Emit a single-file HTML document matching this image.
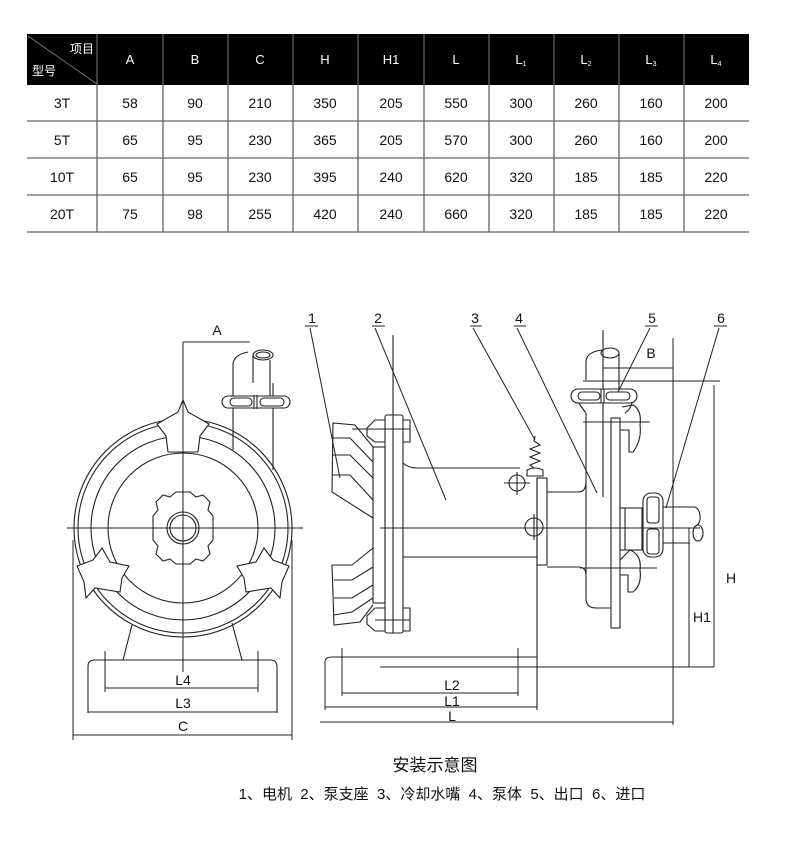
<!DOCTYPE html>
<html><head><meta charset="utf-8"><style>
html,body{margin:0;padding:0;background:#fff;}
body{width:790px;height:850px;position:relative;overflow:hidden;font-family:"Liberation Sans","Noto Sans CJK SC",sans-serif;}
</style></head><body>
<svg width="790" height="850" viewBox="0 0 790 850" xmlns="http://www.w3.org/2000/svg" style="position:absolute;left:0;top:0">
<g font-family="Liberation Sans, Noto Sans CJK SC, sans-serif">
<!-- table header -->
<rect x="27" y="34" width="722" height="51" fill="#000"/>
<g stroke="#777" stroke-width="1">
<line x1="97" y1="34" x2="97" y2="85"/><line x1="163" y1="34" x2="163" y2="85"/><line x1="228" y1="34" x2="228" y2="85"/><line x1="293" y1="34" x2="293" y2="85"/><line x1="358" y1="34" x2="358" y2="85"/><line x1="424" y1="34" x2="424" y2="85"/><line x1="489" y1="34" x2="489" y2="85"/><line x1="554" y1="34" x2="554" y2="85"/><line x1="619" y1="34" x2="619" y2="85"/><line x1="684" y1="34" x2="684" y2="85"/>
<line x1="28" y1="36" x2="97" y2="84"/>
</g>
<g stroke="#333" stroke-width="1">
<line x1="97" y1="85" x2="97" y2="232"/><line x1="163" y1="85" x2="163" y2="232"/><line x1="228" y1="85" x2="228" y2="232"/><line x1="293" y1="85" x2="293" y2="232"/><line x1="358" y1="85" x2="358" y2="232"/><line x1="424" y1="85" x2="424" y2="232"/><line x1="489" y1="85" x2="489" y2="232"/><line x1="554" y1="85" x2="554" y2="232"/><line x1="619" y1="85" x2="619" y2="232"/><line x1="684" y1="85" x2="684" y2="232"/>
</g>
<g stroke="#666" stroke-width="1.2">
<line x1="27" y1="121" x2="749" y2="121"/><line x1="27" y1="158" x2="749" y2="158"/><line x1="27" y1="195" x2="749" y2="195"/><line x1="27" y1="232" x2="749" y2="232"/>
</g>
<g fill="#fff" font-size="13" text-anchor="middle">
<text x="82" y="53" font-size="12">项目</text><text x="44" y="75" font-size="12">型号</text>
<text x="130" y="64">A</text><text x="195" y="64">B</text><text x="260" y="64">C</text><text x="325" y="64">H</text><text x="391" y="64">H1</text><text x="456" y="64">L</text>
<text x="521" y="64">L<tspan font-size="7" dy="2">1</tspan></text><text x="586" y="64">L<tspan font-size="7" dy="2">2</tspan></text><text x="651" y="64">L<tspan font-size="7" dy="2">3</tspan></text><text x="716" y="64">L<tspan font-size="7" dy="2">4</tspan></text>
</g>
<g fill="#111" font-size="14" text-anchor="middle">
<text x="62" y="108">3T</text><text x="130" y="108">58</text><text x="195" y="108">90</text><text x="260" y="108">210</text><text x="325" y="108">350</text><text x="391" y="108">205</text><text x="456" y="108">550</text><text x="521" y="108">300</text><text x="586" y="108">260</text><text x="651" y="108">160</text><text x="716" y="108">200</text>
<text x="62" y="145">5T</text><text x="130" y="145">65</text><text x="195" y="145">95</text><text x="260" y="145">230</text><text x="325" y="145">365</text><text x="391" y="145">205</text><text x="456" y="145">570</text><text x="521" y="145">300</text><text x="586" y="145">260</text><text x="651" y="145">160</text><text x="716" y="145">200</text>
<text x="62" y="182">10T</text><text x="130" y="182">65</text><text x="195" y="182">95</text><text x="260" y="182">230</text><text x="325" y="182">395</text><text x="391" y="182">240</text><text x="456" y="182">620</text><text x="521" y="182">320</text><text x="586" y="182">185</text><text x="651" y="182">185</text><text x="716" y="182">220</text>
<text x="62" y="219">20T</text><text x="130" y="219">75</text><text x="195" y="219">98</text><text x="260" y="219">255</text><text x="325" y="219">420</text><text x="391" y="219">240</text><text x="456" y="219">660</text><text x="521" y="219">320</text><text x="586" y="219">185</text><text x="651" y="219">185</text><text x="716" y="219">220</text>
</g>

<!-- FRONT VIEW -->
<g fill="none" stroke="#222" stroke-width="1.1">
<circle cx="183" cy="528" r="109"/><circle cx="183" cy="528" r="105"/>
<circle cx="183" cy="528" r="92"/><circle cx="183" cy="528" r="75"/>
<path d="M156,502 L163,495 L170,497 L176,492 L190,492 L196,497 L203,495 L210,502 L208,510 L213,516 L213,540 L208,546 L210,554 L203,561 L196,559 L190,564 L176,564 L170,559 L163,561 L156,554 L158,546 L153,540 L153,516 L158,510 Z" fill="#fff"/>
<circle cx="183" cy="528" r="16"/><circle cx="183" cy="528" r="13"/>
<path d="M157,424 L178,412 L183,400 L188,412 L209,424 L200,436 L198,452 L168,452 L166,436 Z" fill="#fff"/>
<path d="M77,566 L93,560 L102,548 L110,562 L129,566 L122,578 L120,592 L95,588 L86,598 L84,582 Z" fill="#fff"/>
<path d="M289,566 L273,560 L264,548 L256,562 L237,566 L244,578 L246,592 L271,588 L280,598 L282,582 Z" fill="#fff"/>
<path d="M233,426 L233,383 M273,426 L273,383 M233,383 L233,365 Q233,355 248,352 M270,360 L270,408"/>
<line x1="233" y1="426" x2="233" y2="450"/><line x1="273" y1="426" x2="273" y2="470"/>
<ellipse cx="263" cy="355" rx="10" ry="5"/><ellipse cx="263" cy="355" rx="7" ry="3"/>
<line x1="253" y1="355" x2="253" y2="383"/>
<rect x="222" y="396" width="68" height="12" rx="6" fill="#fff"/>
<rect x="230" y="398" width="22" height="8" rx="4"/><rect x="260" y="398" width="24" height="8" rx="4"/>
<line x1="254" y1="395" x2="254" y2="409"/><line x1="257" y1="395" x2="257" y2="409"/>
<line x1="132" y1="625" x2="123" y2="660"/><line x1="232" y1="623" x2="242" y2="660"/>
<path d="M88,713 L88,666 Q88,660 95,660 L270,660 Q277,660 277,667 L277,713"/>
</g>
<g stroke="#222" stroke-width="1" fill="none">
<line x1="67" y1="528" x2="303" y2="528"/><line x1="183" y1="342" x2="183" y2="672"/>
<line x1="183" y1="342" x2="250" y2="342"/>
<line x1="105" y1="651" x2="105" y2="692"/><line x1="258" y1="651" x2="258" y2="692"/>
<line x1="105" y1="688" x2="258" y2="688"/>
<line x1="88" y1="712" x2="277" y2="712"/>
<line x1="73" y1="540" x2="73" y2="740"/><line x1="292" y1="540" x2="292" y2="740"/>
<line x1="73" y1="735" x2="292" y2="735"/>
</g>
<g font-size="14" fill="#111" text-anchor="middle">
<text x="217" y="335">A</text><text x="183" y="685">L4</text><text x="183" y="708">L3</text><text x="183" y="731">C</text>
</g>

<!-- SIDE VIEW -->
<g fill="none" stroke="#222" stroke-width="1.1">
<path d="M373,447 L355,425 L333,423 L332,492 L373,518"/>
<path d="M332,438 L350,438 L373,462 M332,455 L350,455 L373,478 M332,475 L350,475 L373,500"/>
<path d="M373,548 L352,565 L332,565 L334,625 L360,622 L373,605"/>
<path d="M334,580 L352,580 L373,567 M334,598 L352,598 L373,585 M334,615 L352,612 L373,598"/>
<rect x="373" y="447" width="12" height="156"/>
<rect x="385" y="415" width="18" height="218" rx="2" fill="#fff"/>
<line x1="393" y1="335" x2="393" y2="633"/>
<path d="M385,420 L375,420 L367,428 L367,436 L375,442 L385,442 M403,420 L410,420 L410,442 L403,442"/>
<path d="M385,608 L375,608 L367,616 L367,624 L375,631 L385,631 M403,608 L410,608 L410,631 L403,631"/>
<line x1="352" y1="429" x2="410" y2="429"/><line x1="375" y1="620" x2="410" y2="620"/>
<path d="M403,463 Q408,468 418,468 L520,468"/>
<line x1="403" y1="557" x2="537" y2="557"/>
<circle cx="517" cy="483" r="8"/><line x1="504" y1="483" x2="530" y2="483"/><line x1="517" y1="472" x2="517" y2="495"/>
<path d="M527,476 L527,470 Q535,466 543,470 L543,476 Z" fill="#fff"/>
<path d="M534,468 L530,465 L540,461 L530,457 L540,453 L530,449 L540,445 L534,441 L535,436"/>
<rect x="537" y="478" width="10" height="87" fill="#fff"/>
<line x1="537" y1="478" x2="537" y2="710"/>
<circle cx="534" cy="527" r="9"/><line x1="534" y1="514" x2="534" y2="540"/>
<path d="M547,492 L578,492 Q586,492 586,482 M547,567 L578,567 Q586,567 586,575"/>
<path d="M586,413 L586,598 Q586,608 596,608 L612,608"/>
<rect x="611" y="418" width="9" height="210" fill="#fff"/>
<line x1="583" y1="422" x2="650" y2="422"/><line x1="580" y1="568" x2="657" y2="568"/>
<line x1="603" y1="330" x2="603" y2="497"/>
<path d="M586,380 L586,362 Q586,352 602,350 M619,353 L619,395"/>
<ellipse cx="610" cy="353" rx="9" ry="5"/>
<path d="M586,413 Q580,405 575,398 M632,403 Q630,410 625,413"/>
<rect x="571" y="389" width="66" height="14" rx="7" fill="#fff"/>
<rect x="578" y="392" width="22" height="8" rx="4"/><rect x="606" y="392" width="24" height="8" rx="4"/>
<line x1="601" y1="389" x2="601" y2="403"/><line x1="604" y1="389" x2="604" y2="403"/>
<path d="M622,407 L633,405 Q642,410 640,425 Q642,440 633,452 L629,452 L629,430 L620,430"/>
<path d="M620,560 L630,550 Q642,555 640,570 Q642,585 633,592 L628,592 L628,575 L620,575"/>
<rect x="620" y="508" width="22" height="42" fill="#fff"/>
<line x1="625" y1="508" x2="625" y2="550"/>
<rect x="643" y="493" width="20" height="64" rx="8" fill="#fff"/>
<rect x="647" y="497" width="12" height="26" rx="3"/><rect x="647" y="529" width="12" height="25" rx="3"/>
<path d="M663,507 L695,507 Q701,510 700,520 Q699,525 694,527 M663,543 L690,543"/>
<ellipse cx="698" cy="533" rx="5" ry="8"/>
</g>
<g stroke="#222" stroke-width="1" fill="none">
<line x1="380" y1="528" x2="700" y2="528"/>
<line x1="673" y1="338" x2="673" y2="725"/>
<line x1="603" y1="368" x2="673" y2="368"/>
<line x1="583" y1="381" x2="720" y2="381"/>
<line x1="714" y1="385" x2="714" y2="667"/>
<line x1="689" y1="528" x2="689" y2="667"/>
<line x1="380" y1="667" x2="714" y2="667"/>
<path d="M325,710 L325,662 Q325,657 332,657 L537,657"/>
<line x1="342" y1="648" x2="342" y2="696"/><line x1="518" y1="648" x2="518" y2="696"/>
<line x1="342" y1="693" x2="518" y2="693"/>
<line x1="325" y1="707" x2="537" y2="707"/>
<line x1="320" y1="722" x2="673" y2="722"/>
<line x1="310" y1="328" x2="340" y2="478"/><line x1="305" y1="326" x2="318" y2="326"/>
<line x1="375" y1="328" x2="446" y2="500"/><line x1="372" y1="326" x2="385" y2="326"/>
<line x1="473" y1="328" x2="535" y2="440"/><line x1="470" y1="326" x2="482" y2="326"/>
<line x1="517" y1="328" x2="597" y2="493"/><line x1="514" y1="326" x2="526" y2="326"/>
<line x1="650" y1="328" x2="618" y2="392"/><line x1="645" y1="326" x2="658" y2="326"/>
<line x1="719" y1="328" x2="666" y2="508"/><line x1="714" y1="326" x2="727" y2="326"/>
</g>
<g font-size="14" fill="#111" text-anchor="middle">
<text x="312" y="323">1</text><text x="378" y="323">2</text><text x="475" y="323">3</text><text x="519" y="323">4</text><text x="652" y="323">5</text><text x="721" y="323">6</text>
<text x="651" y="358">B</text><text x="731" y="583">H</text><text x="702" y="622">H1</text>
<text x="452" y="690">L2</text><text x="452" y="706">L1</text><text x="452" y="721">L</text>
</g>
<text x="435" y="771" font-size="17" text-anchor="middle" fill="#111">安装示意图</text>
<text x="442" y="799" font-size="15" text-anchor="middle" fill="#111" style="white-space:pre" xml:space="preserve">1、电机  2、泵支座  3、冷却水嘴  4、泵体  5、出口  6、进口</text>
</g>
</svg>
</body></html>
